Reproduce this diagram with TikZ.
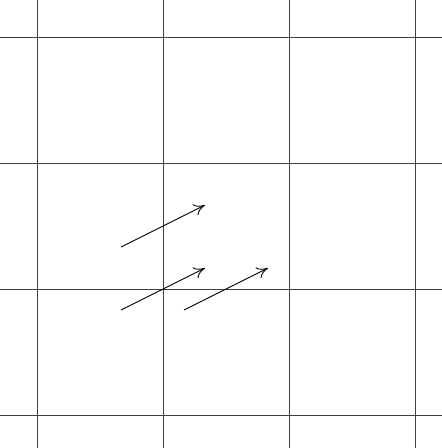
\documentclass[tikz,border=0pt]{standalone}
\usepackage{tikz}
\usetikzlibrary{arrows.meta}

\begin{document}
\begin{tikzpicture}[
    x=2cm,y=2cm,
    gridline/.style={draw=black!75,line width=0.45pt},
    vec/.style={-{To[length=5pt,width=5.5pt]},line width=0.4pt},
]
    \useasboundingbox (-1.2937,-1.2619) rectangle (2.2143,2.2937);
    \clip (-1.2937,-1.2619) rectangle (2.2143,2.2937);
    \draw[gridline,step=1] (-1.5,-1.5) grid (2.5,2.5);

    \coordinate (a1) at (-1/3,1/3);
    \coordinate (a2) at (1/3,2/3);
    \coordinate (b1) at (-1/3,-1/6);
    \coordinate (b2) at (1/3,1/6);
    \coordinate (c1) at (1/6,-1/6);
    \coordinate (c2) at (5/6,1/6);

    \draw[vec] (a1) -- (a2);
    \draw[vec] (b1) -- (b2);
    \draw[vec] (c1) -- (c2);
\end{tikzpicture}
\end{document}
